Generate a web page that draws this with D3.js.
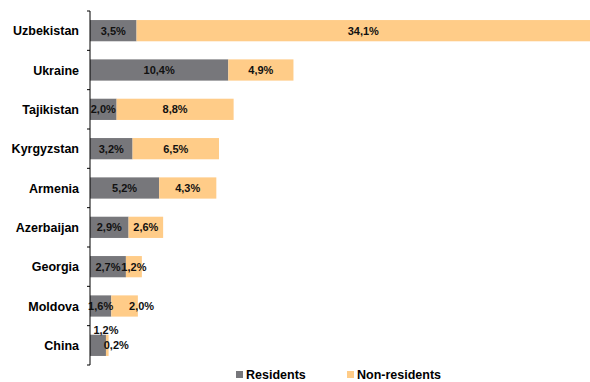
<!DOCTYPE html>
<html>
<head>
<meta charset="utf-8">
<script src="https://cdn.jsdelivr.net/npm/d3@7"></script>
<style>
  body { margin: 0; background: #fff; }
  text { font-family: "Liberation Sans", Arial, sans-serif; font-weight: bold; }
</style>
</head>
<body>
<div class="chart"></div>
<script>
// countries, top to bottom
var countries = ["Uzbekistan", "Ukraine", "Tajikistan", "Kyrgyzstan", "Armenia", "Azerbaijan", "Georgia", "Moldova", "China"];
var residents = [3.5, 10.4, 2.0, 3.2, 5.2, 2.9, 2.7, 1.6, 1.2];
var nonResidents = [34.1, 4.9, 8.8, 6.5, 4.3, 2.6, 1.2, 2.0, 0.2];
var seriesNames = ["Residents", "Non-residents"];
var colors = ["#77777b", "#ffcc88"];

var svgWidth = 590, svgHeight = 382;
var svg = d3.select(".chart").append("svg").attr("width", svgWidth).attr("height", svgHeight);

var rows = countries.map(function(c, i) { return {country: c, res: residents[i], non: nonResidents[i]}; });

var x = d3.scaleLinear().domain([0, 37.6]).range([90, 590]);
var y = d3.scaleBand().domain(countries).range([11, 365]).paddingInner(0.46).paddingOuter(0.23);

var fmt = function(v) { return v.toFixed(1).replace(".", ",") + "%"; };

// bars
var g = svg.append("g");
rows.forEach(function(d) {
  g.append("rect").attr("x", x(0)).attr("y", y(d.country)).attr("width", x(d.res) - x(0)).attr("height", y.bandwidth()).attr("fill", colors[0]);
  g.append("rect").attr("x", x(d.res)).attr("y", y(d.country)).attr("width", x(d.res + d.non) - x(d.res)).attr("height", y.bandwidth()).attr("fill", colors[1]);
  var cy = y(d.country) + y.bandwidth() / 2 + 4;
  // small bars: labels nudged off the way Excel placed them
  var resY = cy, resDx = 0, nonDx = 0;
  if (d.country === "China") { resY = cy - 15; resDx = 8; nonDx = 9; }
  if (d.country === "Moldova") { nonDx = 17; }
  g.append("text").attr("x", x(d.res / 2) + resDx).attr("y", resY).attr("text-anchor", "middle").attr("font-size", 11).attr("font-weight", "bold").attr("fill", "#111").text(fmt(d.res));
  g.append("text").attr("x", x(d.res + d.non / 2) + nonDx).attr("y", cy).attr("text-anchor", "middle").attr("font-size", 11).attr("font-weight", "bold").attr("fill", "#111").text(fmt(d.non));
});

// category axis
var axis = svg.append("g");
axis.append("line").attr("x1", x(0)).attr("x2", x(0)).attr("y1", 11).attr("y2", 365).attr("stroke", "#000");
var step = y.step();
d3.range(countries.length + 1).forEach(function(i) {
  var ty = 11 + i * step;
  axis.append("line").attr("x1", x(0) - 3).attr("x2", x(0)).attr("y1", ty).attr("y2", ty).attr("stroke", "#000");
});
countries.forEach(function(c) {
  axis.append("text").attr("x", 79).attr("y", y(c) + y.bandwidth() / 2 + 4.5).attr("text-anchor", "end").attr("font-size", 12.5).attr("font-weight", "bold").attr("fill", "#000").text(c);
});

// legend
var legend = svg.append("g");
var legX = [236, 347];
seriesNames.forEach(function(s, i) {
  legend.append("rect").attr("x", legX[i]).attr("y", 371).attr("width", 7).attr("height", 7).attr("fill", colors[i]);
  legend.append("text").attr("x", legX[i] + 10).attr("y", 379).attr("font-size", 12.5).attr("font-weight", "bold").attr("fill", "#000").text(s);
});
</script>
</body>
</html>
